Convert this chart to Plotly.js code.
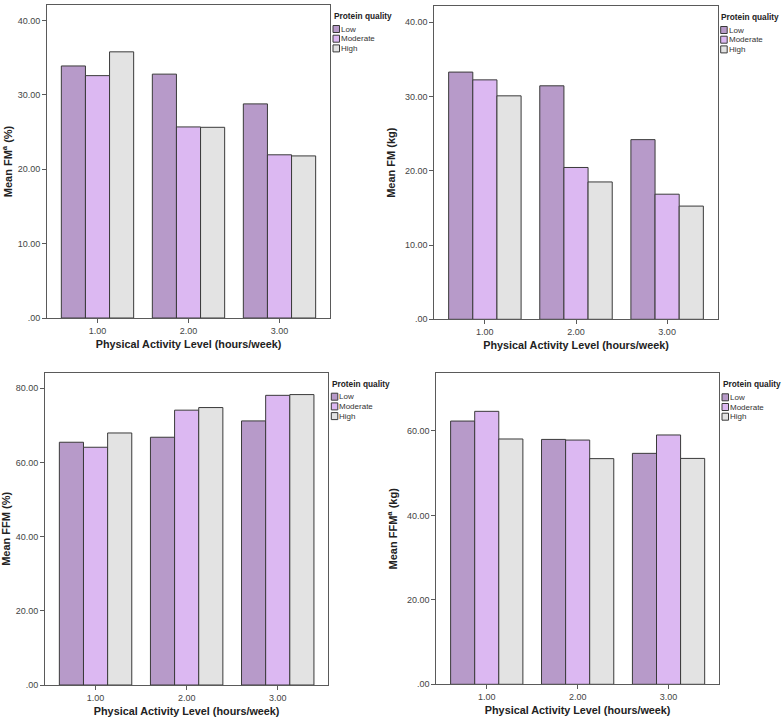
<!DOCTYPE html>
<html>
<head>
<meta charset="utf-8">
<script src="https://cdn.plot.ly/plotly-3.0.1.min.js"></script>
<style>html,body{margin:0;padding:0;background:#fff;}#chart{width:784px;height:721px;}</style>
</head>
<body>
<div id="chart"></div>
<script>
// ---- data ----
const categories = ['1.00', '2.00', '3.00'];
const groupNames = ['Low', 'Moderate', 'High'];

const fmPctLow  = [33.9, 32.8, 28.8];
const fmPctMod  = [32.6, 25.7, 21.95];
const fmPctHigh = [35.8, 25.65, 21.8];

const fmKgLow  = [33.3, 31.45, 24.2];
const fmKgMod  = [32.25, 20.45, 16.85];
const fmKgHigh = [30.1, 18.5, 15.25];

const ffmPctLow  = [65.45, 66.8, 71.2];
const ffmPctMod  = [64.1, 74.1, 78.1];
const ffmPctHigh = [67.95, 74.8, 78.3];

const ffmKgLow  = [62.35, 58.0, 54.7];
const ffmKgMod  = [64.65, 57.85, 59.05];
const ffmKgHigh = [58.1, 53.45, 53.5];

const yTicks10 = [0, 10, 20, 30, 40];
const yTickText10 = ['.00', '10.00', '20.00', '30.00', '40.00'];
const yTicks20 = [0, 20, 40, 60, 80];
const yTickText20 = ['.00', '20.00', '40.00', '60.00', '80.00'];

const xTitle = 'Physical Activity Level (hours/week)';
const yTitles = ['Mean FM<sup>a</sup> (%)', 'Mean FM (kg)', 'Mean FFM (%)', 'Mean FFM<sup>a</sup> (kg)'];
const legendTitle = 'Protein quality';

// ---- styles ----
const colors = ['#b79ac9', '#dcb8f2', '#e3e3e3'];
const FONT = 'Liberation Sans, Arial, sans-serif';
const W = 784, H = 721;

const panels = [
  {vals: [fmPctLow, fmPctMod, fmPctHigh], ax: '',  xd: [47, 330],     yd: [5, 318],       range: [0, 42.1],  tv: yTicks10, tt: yTickText10},
  {vals: [fmKgLow, fmKgMod, fmKgHigh],    ax: '2', xd: [434.3, 717.7], yd: [6, 319.3],     range: [0, 42.2],  tv: yTicks10, tt: yTickText10},
  {vals: [ffmPctLow, ffmPctMod, ffmPctHigh], ax: '3', xd: [45, 328.3], yd: [372.7, 685],   range: [0, 84.2],  tv: yTicks20, tt: yTickText20},
  {vals: [ffmKgLow, ffmKgMod, ffmKgHigh], ax: '4', xd: [436.3, 719],   yd: [373.3, 684.3], range: [0, 73.66], tv: yTicks20.slice(0, 4), tt: yTickText20.slice(0, 4)}
];

const traces = [];
panels.forEach(p => {
  p.vals.forEach((v, i) => {
    traces.push({
      type: 'bar',
      x: categories,
      y: v,
      name: groupNames[i],
      xaxis: 'x' + p.ax,
      yaxis: 'y' + p.ax,
      showlegend: false,
      marker: {color: colors[i], line: {color: '#3a3a3a', width: 1}},
      hoverinfo: 'x+y+name'
    });
  });
});

function xAxis(domain, anchor) {
  return {
    domain: domain, anchor: anchor, type: 'category',
    range: [-0.555, 2.555],
    showline: true, mirror: true, linecolor: '#5a5a5a', linewidth: 1,
    ticks: 'outside', ticklen: 4, tickcolor: '#5a5a5a',
    showgrid: false, zeroline: false,
    tickfont: {family: FONT, size: 9, color: '#444'},
    title: {text: xTitle, font: {family: FONT, size: 10.8, color: '#222', weight: 'bold'}, standoff: 5},
    automargin: false
  };
}
function yAxis(domain, anchor, range, tv, tt, title) {
  return {
    domain: domain, anchor: anchor, range: range,
    tickmode: 'array', tickvals: tv, ticktext: tt,
    showline: true, mirror: true, linecolor: '#5a5a5a', linewidth: 1,
    ticks: 'outside', ticklen: 4, tickcolor: '#5a5a5a',
    showgrid: false, zeroline: false,
    tickfont: {family: FONT, size: 9, color: '#444'},
    title: {text: title, font: {family: FONT, size: 11, color: '#222', weight: 'bold'}, standoff: 7},
    automargin: false
  };
}

const layout = {
  width: W, height: H,
  margin: {l: 0, r: 0, t: 0, b: 0},
  paper_bgcolor: '#fff', plot_bgcolor: '#fff',
  font: {family: FONT},
  barmode: 'group', bargap: 0.205, bargroupgap: 0,
  showlegend: false,
  shapes: [], annotations: []
};

panels.forEach((p, k) => {
  const xdom = [p.xd[0] / W, p.xd[1] / W];
  const ydom = [1 - p.yd[1] / H, 1 - p.yd[0] / H];
  layout['xaxis' + p.ax] = xAxis(xdom, 'y' + p.ax);
  layout['yaxis' + p.ax] = yAxis(ydom, 'x' + p.ax, p.range, p.tv, p.tt, yTitles[k]);

  // legend block at the right of each plot frame
  const lx = p.xd[1] + 1.5;
  const top = p.yd[0];
  layout.annotations.push({
    xref: 'paper', yref: 'paper', x: lx / W, y: 1 - (top + 11) / H,
    xanchor: 'left', yanchor: 'middle', showarrow: false,
    text: '<b>' + legendTitle + '</b>',
    font: {family: FONT, size: 8.3, color: '#222'}
  });
  groupNames.forEach((g, i) => {
    const sy = top + 20.5 + i * 9.7;
    layout.shapes.push({
      type: 'rect', xref: 'paper', yref: 'paper',
      x0: (lx + 1.5) / W, x1: (lx + 8) / W,
      y0: 1 - (sy + 7) / H, y1: 1 - sy / H,
      fillcolor: colors[i], line: {color: '#3a3a3a', width: 1}
    });
    layout.annotations.push({
      xref: 'paper', yref: 'paper', x: (lx + 7.5) / W, y: 1 - (sy + 3.6) / H,
      xanchor: 'left', yanchor: 'middle', showarrow: false,
      text: g, font: {family: FONT, size: 8, color: '#333'}
    });
  });
});

Plotly.newPlot('chart', traces, layout, {displayModeBar: false});
</script>
</body>
</html>
